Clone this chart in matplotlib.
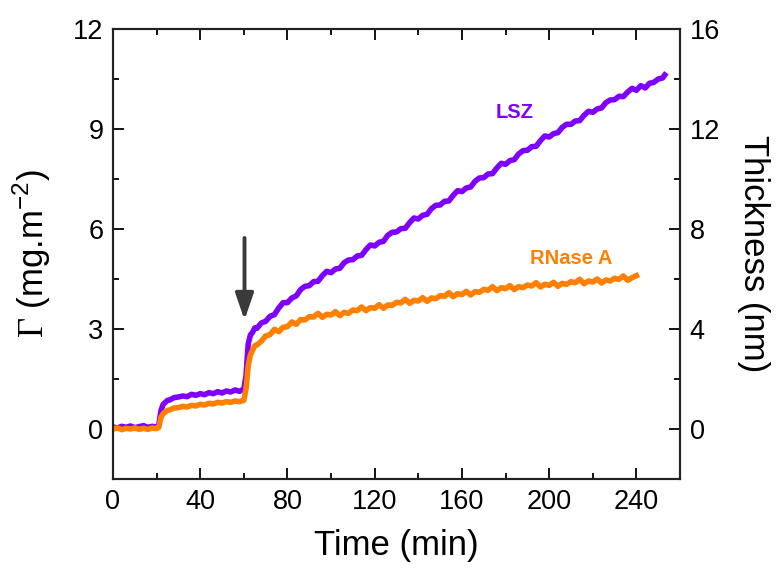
import matplotlib
matplotlib.use("Agg")
import matplotlib.pyplot as plt
from matplotlib.ticker import MultipleLocator

plt.rcParams['font.family'] = ['Liberation Sans', 'DejaVu Sans']
plt.rcParams['mathtext.fontset'] = 'custom'
plt.rcParams['mathtext.rm'] = 'Liberation Serif'
plt.rcParams['mathtext.sf'] = 'Liberation Sans'

# time axis (min) shared by both series up to 240 min
time_min = ([0, 2, 4, 6, 8, 10, 12, 14, 16, 18, 20, 21, 22, 23, 24, 25, 26]
            + list(range(28, 61, 2)) + [61, 62, 63, 64, 65, 66]
            + list(range(68, 241, 2)))
lsz_extra_time = [242, 244, 246, 248, 250, 252, 253]

lsz_gamma = [0.06, 0.03, 0.08, 0.05, 0.09, 0.04, 0.07, 0.10, 0.05, 0.08, 0.06,
             0.12, 0.55, 0.74, 0.80, 0.86, 0.87,
             0.94, 0.96, 0.99, 0.97, 1.04, 1.01, 1.06, 1.03, 1.09, 1.06, 1.12, 1.08, 1.14, 1.11, 1.17, 1.13, 1.20,
             1.60, 2.55, 2.82, 2.90, 3.03, 3.02,
             3.18, 3.23, 3.38, 3.43, 3.63, 3.79, 3.79, 3.93, 3.99, 4.18,
             4.28, 4.30, 4.42, 4.43, 4.60, 4.73, 4.69, 4.80, 4.82, 4.99,
             5.07, 5.08, 5.19, 5.21, 5.38, 5.52, 5.49, 5.60, 5.63, 5.81,
             5.90, 5.91, 6.01, 6.02, 6.19, 6.33, 6.30, 6.41, 6.44, 6.61,
             6.71, 6.72, 6.83, 6.84, 7.01, 7.15, 7.12, 7.23, 7.26, 7.43,
             7.53, 7.54, 7.65, 7.66, 7.83, 7.97, 7.94, 8.05, 8.08, 8.25,
             8.35, 8.36, 8.47, 8.48, 8.65, 8.79, 8.76, 8.86, 8.89, 9.05,
             9.14, 9.14, 9.24, 9.25, 9.41, 9.53, 9.50, 9.60, 9.63, 9.79,
             9.87, 9.88, 9.98, 9.97, 10.11, 10.22, 10.16,
             10.30, 10.23, 10.37, 10.40, 10.50, 10.53, 10.62]

rnase_gamma = [0.00, 0.03, -0.02, 0.02, 0.00, 0.03, -0.01, 0.02, -0.01, 0.03, 0.01,
               0.05, 0.35, 0.46, 0.51, 0.56, 0.57,
               0.63, 0.64, 0.68, 0.66, 0.71, 0.69, 0.74, 0.72, 0.77, 0.75, 0.80, 0.78, 0.82, 0.80, 0.84, 0.82, 0.86,
               1.20, 1.90, 2.22, 2.36, 2.50, 2.52,
               2.63, 2.79, 2.83, 2.99, 2.92, 3.05, 3.07, 3.21, 3.14, 3.28,
               3.27, 3.37, 3.36, 3.47, 3.35, 3.44, 3.42, 3.52, 3.40, 3.50,
               3.47, 3.57, 3.55, 3.66, 3.55, 3.64, 3.62, 3.73, 3.62, 3.72,
               3.71, 3.80, 3.78, 3.89, 3.77, 3.86, 3.84, 3.94, 3.83, 3.93,
               3.91, 4.00, 3.98, 4.09, 3.97, 4.06, 4.03, 4.13, 4.02, 4.12,
               4.10, 4.19, 4.16, 4.27, 4.15, 4.24, 4.21, 4.30, 4.18, 4.27,
               4.24, 4.32, 4.29, 4.39, 4.26, 4.34, 4.31, 4.40, 4.28, 4.37,
               4.34, 4.42, 4.39, 4.49, 4.36, 4.44, 4.41, 4.50, 4.38, 4.47,
               4.44, 4.52, 4.49, 4.59, 4.46, 4.54, 4.60]

series_labels = ["LSZ", "RNase A"]
x_ticks = [0, 40, 80, 120, 160, 200, 240]
left_ticks = [0, 3, 6, 9, 12]
right_ticks = [0, 4, 8, 12, 16]

purple = "#7F00FF"
orange = "#FF8000"

fig = plt.figure(figsize=(7.83, 5.68), dpi=100)
ax = fig.add_axes([0.1443, 0.1567, 0.7242, 0.7923])

ax.plot(time_min, rnase_gamma, color=orange, lw=4, zorder=3)
ax.plot(time_min + lsz_extra_time, lsz_gamma, color=purple, lw=4, zorder=2)

ax.set_xlim(0, 260)
ax.set_ylim(-1.5, 12)
ax.set_xticks(x_ticks)
ax.set_yticks(left_ticks)
ax.xaxis.set_minor_locator(MultipleLocator(20))
ax.yaxis.set_minor_locator(MultipleLocator(1.5))
ax.tick_params(which='both', direction='in', top=True, right=False, width=1.3,
               labelsize=19.5, pad=7)
ax.tick_params(which='major', length=8)
ax.tick_params(which='minor', length=4.5)
for s in ax.spines.values():
    s.set_linewidth(1.5)
    s.set_color("#222222")

ax.set_xlabel("Time (min)", fontsize=25, labelpad=10)
ax.set_ylabel(r"$\mathrm{\Gamma}$ (mg.m$^{\mathsf{-2}}$)", fontsize=25, labelpad=14)

ax2 = ax.twinx()
ax2.set_ylim(-2, 16)
ax2.set_yticks(right_ticks)
ax2.yaxis.set_minor_locator(MultipleLocator(2))
ax2.tick_params(which='both', direction='in', width=1.3, labelsize=19.5, pad=7)
ax2.tick_params(which='major', length=8)
ax2.tick_params(which='minor', length=4.5)
for s in ax2.spines.values():
    s.set_linewidth(1.5)
    s.set_color("#222222")
ax2.set_ylabel("Thickness (nm)", fontsize=25, rotation=270, labelpad=36)

ax.text(184, 9.48, series_labels[0], color=purple, fontsize=14.5, fontweight='bold',
        ha='center', va='center')
ax.text(210, 5.1, series_labels[1], color=orange, fontsize=14.5, fontweight='bold',
        ha='center', va='center')

ax.annotate("", xy=(60.3, 3.27), xytext=(60.3, 5.73),
            arrowprops=dict(arrowstyle="-|>,head_length=1.6,head_width=0.55",
                            color="#3a3a3a", lw=2.8, shrinkA=0, shrinkB=0))

fig.savefig("out.png", dpi=100)
